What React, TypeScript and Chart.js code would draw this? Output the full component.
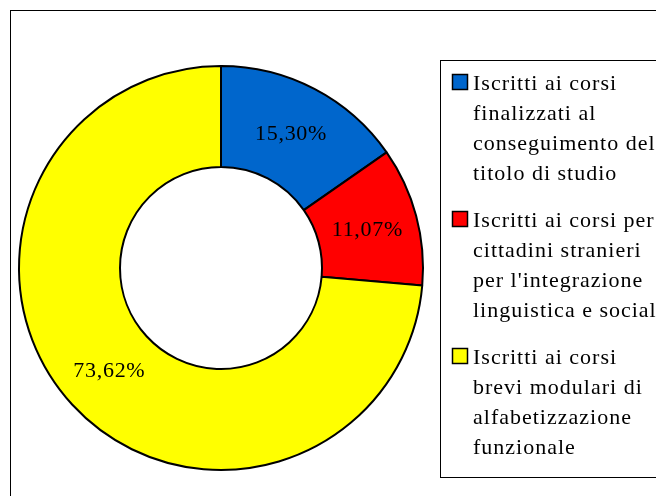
import React, { useEffect, useRef } from "react";
import { Chart, registerables } from "chart.js";

Chart.register(...registerables);

const categories: string[][] = [
  ["Iscritti ai corsi", "finalizzati al", "conseguimento del", "titolo di studio"],
  ["Iscritti ai corsi per", "cittadini stranieri", "per l'integrazione", "linguistica e sociale"],
  ["Iscritti ai corsi", "brevi modulari di", "alfabetizzazione", "funzionale"],
];
const values: number[] = [15.3, 11.07, 73.62];
const colors: string[] = ["#0066CC", "#FF0000", "#FFFF00"];

const FONT = "'Liberation Serif', 'DejaVu Serif', serif";

const labelPlugin = {
  id: "sliceLabels",
  afterDatasetsDraw(chart: any) {
    const ctx = chart.ctx;
    const meta = chart.getDatasetMeta(0);
    ctx.save();
    ctx.font = `22px ${FONT}`;
    (ctx as any).letterSpacing = "0.7px";
    ctx.fillStyle = "#000";
    ctx.textAlign = "center";
    ctx.textBaseline = "middle";
    meta.data.forEach((arc: any, i: number) => {
      const p = arc.tooltipPosition();
      const txt = values[i].toFixed(2).replace(".", ",") + "%";
      ctx.fillText(txt, p.x, p.y + 1);
    });
    ctx.restore();
  },
};

const legendPlugin = {
  id: "boxLegend",
  afterDraw(chart: any) {
    const ctx = chart.ctx;
    ctx.save();
    ctx.strokeStyle = "#000";
    ctx.lineWidth = 1;
    // outer frame
    ctx.strokeRect(10.5, 10.5, 800, 600);
    // legend box
    ctx.fillStyle = "#fff";
    ctx.fillRect(440.5, 60.5, 300, 417);
    ctx.strokeRect(440.5, 60.5, 300, 417);
    ctx.font = `22px ${FONT}`;
    (ctx as any).letterSpacing = "1px";
    ctx.textAlign = "left";
    ctx.textBaseline = "alphabetic";
    categories.forEach((lines, i) => {
      const base = 90 + i * 137;
      ctx.fillStyle = colors[i];
      ctx.fillRect(452.5, base - 15.5, 15, 15);
      ctx.lineWidth = 1.5;
      ctx.strokeRect(452.5, base - 15.5, 15, 15);
      ctx.fillStyle = "#000";
      lines.forEach((l, j) => {
        ctx.fillText(l, 473, base + j * 30);
      });
    });
    ctx.restore();
  },
};

export default function App() {
  const ref = useRef<HTMLCanvasElement | null>(null);
  useEffect(() => {
    if (!ref.current) return;
    const chart = new Chart(ref.current, {
      type: "doughnut",
      data: {
        labels: categories.map((c) => c.join(" ")),
        datasets: [
          {
            data: values,
            backgroundColor: colors,
            borderColor: "#000",
            borderWidth: 2,
            hoverOffset: 0,
            hoverBorderWidth: 2,
          },
        ],
      },
      options: {
        responsive: false,
        animation: false,
        cutout: "50%",
        layout: { padding: { left: 18, top: 65, right: 232, bottom: 25 } },
        plugins: {
          legend: { display: false },
          tooltip: { enabled: false },
        },
        events: [],
      },
      plugins: [labelPlugin, legendPlugin],
    });
    return () => chart.destroy();
  }, []);

  return (
    <div
      style={{
        position: "fixed",
        left: 0,
        top: 0,
        width: 656,
        height: 496,
        overflow: "hidden",
        background: "#fff",
      }}
    >
      <canvas
        ref={ref}
        width={656}
        height={496}
        style={{ position: "absolute", left: 0, top: 0, width: 656, height: 496 }}
      />
    </div>
  );
}
